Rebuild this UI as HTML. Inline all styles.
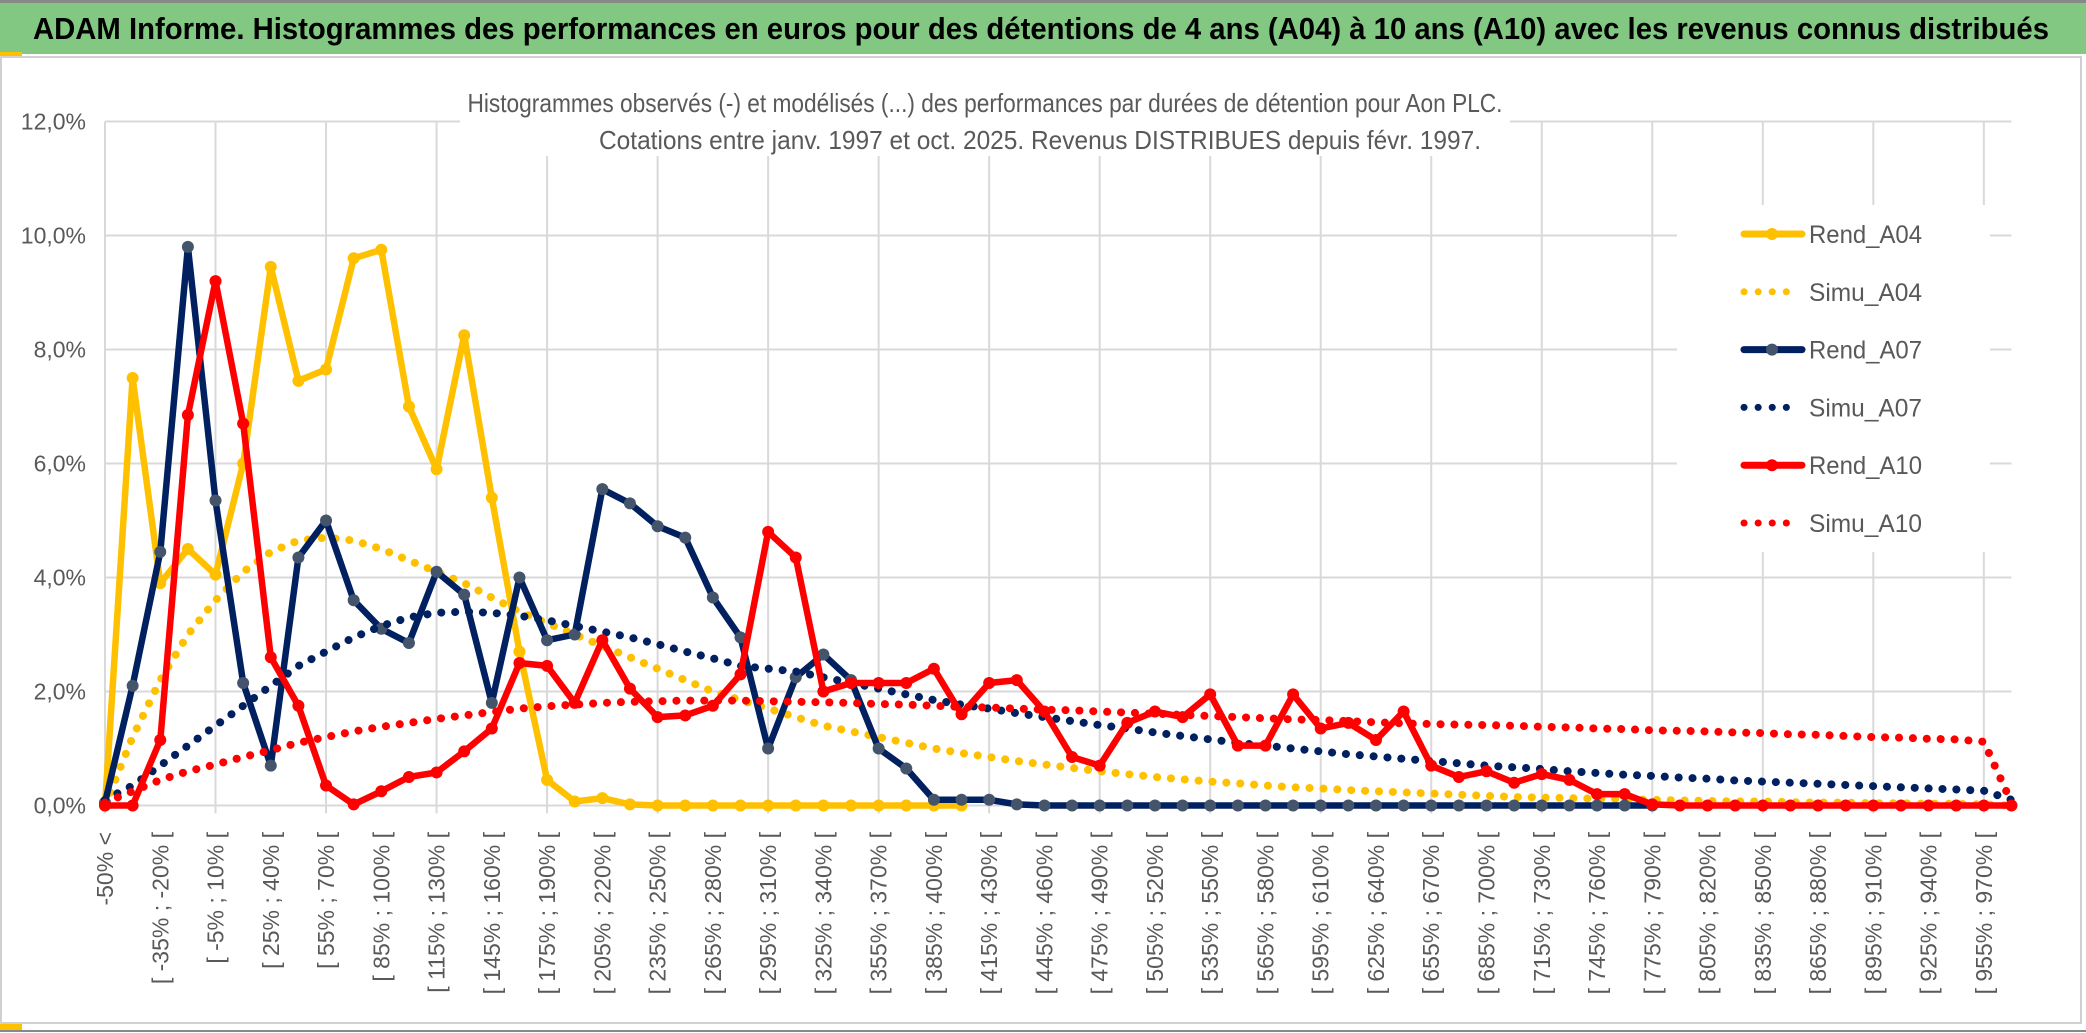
<!DOCTYPE html>
<html><head><meta charset="utf-8">
<style>
html,body{margin:0;padding:0;background:#fff;}
svg{display:block;}
text{font-family:"Liberation Sans Narrow","Liberation Sans",sans-serif;}
</style></head>
<body>
<svg id="chart" width="2086" height="1033" viewBox="0 0 2086 1033" xmlns="http://www.w3.org/2000/svg">
  <rect x="0" y="0" width="2086" height="1033" fill="#fff"/>
  <rect x="0" y="2" width="2086" height="52" fill="#82C882"/>
  <line x1="0" y1="1.5" x2="2086" y2="1.5" stroke="#888" stroke-width="3"/>
  <text x="33" y="39" font-size="31" font-weight="bold" fill="#000" textLength="2016" lengthAdjust="spacingAndGlyphs">ADAM Informe. Histogrammes des performances en euros pour des détentions de 4 ans (A04) à 10 ans (A10) avec les revenus connus distribués</text>
  <rect x="1" y="57" width="2080" height="966" fill="none" stroke="#d0d0d0" stroke-width="2"/>
  <rect x="0" y="52" width="22" height="4" fill="#FFC000"/>
  <rect x="0" y="1024" width="22" height="6" fill="#FFC000"/>
  <line x1="0" y1="1031" x2="2086" y2="1031" stroke="#888" stroke-width="2"/>
  <g id="grid"></g>
  <rect x="460" y="84" width="1050" height="72" fill="#fff"/>
  <text x="985" y="112" font-size="26" fill="#595959" text-anchor="middle" textLength="1035" lengthAdjust="spacingAndGlyphs">Histogrammes observés (-) et modélisés (...) des performances par durées de détention pour Aon PLC.</text>
  <text x="1040" y="149" font-size="26" fill="#595959" text-anchor="middle" textLength="882" lengthAdjust="spacingAndGlyphs">Cotations entre janv. 1997 et oct. 2025. Revenus DISTRIBUES depuis févr. 1997.</text>
  <g id="yaxis"></g>
  <g id="xaxis"></g>
  <g id="series"></g>
  <g id="legend"></g>
</svg>
<script>
const rendA04 = [0,7.5,3.9,4.5,4.05,6.0,9.45,7.45,7.65,9.6,9.75,7.0,5.9,8.25,5.4,2.7,0.45,0.07,0.13,0.02,0,0,0,0,0,0,0,0,0,0,0,0];
const simuA04 = [0,1.2,2.2,3.0,3.6,4.1,4.45,4.65,4.7,4.65,4.5,4.3,4.1,3.9,3.65,3.4,3.2,3.0,2.8,2.6,2.4,2.2,2.0,1.85,1.7,1.55,1.4,1.3,1.2,1.1,1.0,0.92,0.85,0.78,0.72,0.66,0.6,0.55,0.5,0.46,0.42,0.39,0.35,0.32,0.3,0.27,0.25,0.23,0.21,0.19,0.17,0.15,0.14,0.13,0.12,0.11,0.1,0.09,0.08,0.07,0.07,0.06,0.05,0.05,0.04,0.04,0.03,0.03,0.02,0];
const rendA07 = [0.05,2.1,4.45,9.8,5.35,2.15,0.7,4.35,5.0,3.6,3.1,2.85,4.1,3.7,1.8,4.0,2.9,3.0,5.55,5.3,4.9,4.7,3.65,2.95,1.0,2.25,2.65,2.2,1.0,0.65,0.1,0.1,0.1,0.02,0,0,0,0,0,0,0,0,0,0,0,0,0,0,0,0,0,0,0,0,0,0,0];
const simuA07 = [0.1,0.35,0.7,1.05,1.4,1.75,2.1,2.45,2.7,2.95,3.15,3.3,3.38,3.4,3.38,3.33,3.25,3.15,3.05,2.95,2.83,2.7,2.58,2.45,2.4,2.35,2.25,2.15,2.05,1.95,1.85,1.77,1.7,1.62,1.55,1.48,1.41,1.35,1.28,1.22,1.16,1.1,1.05,1.0,0.95,0.9,0.86,0.82,0.78,0.74,0.7,0.67,0.64,0.6,0.57,0.54,0.52,0.49,0.47,0.44,0.42,0.4,0.38,0.36,0.34,0.32,0.3,0.28,0.26,0.1];
const rendA10 = [0,0,1.15,6.85,9.2,6.7,2.6,1.75,0.35,0.02,0.25,0.5,0.58,0.95,1.35,2.5,2.45,1.8,2.9,2.05,1.55,1.58,1.75,2.3,4.8,4.35,2.0,2.15,2.15,2.15,2.4,1.6,2.15,2.2,1.65,0.85,0.7,1.45,1.65,1.55,1.95,1.05,1.05,1.95,1.35,1.45,1.15,1.65,0.7,0.5,0.6,0.4,0.55,0.45,0.2,0.2,0.02,0,0,0,0,0,0,0,0,0,0,0,0,0];
const simuA10 = [0.05,0.25,0.45,0.6,0.72,0.85,0.97,1.1,1.2,1.3,1.38,1.45,1.52,1.58,1.64,1.7,1.74,1.77,1.8,1.82,1.83,1.84,1.84,1.84,1.83,1.82,1.81,1.8,1.78,1.77,1.75,1.73,1.72,1.7,1.68,1.67,1.65,1.63,1.61,1.59,1.57,1.55,1.53,1.51,1.5,1.48,1.46,1.44,1.43,1.42,1.41,1.4,1.38,1.37,1.35,1.34,1.32,1.31,1.3,1.28,1.27,1.25,1.24,1.22,1.2,1.19,1.17,1.16,1.12,0.05];
const yTicks = [0,2,4,6,8,10,12];
const yTickLabels = ["0,0%","2,0%","4,0%","6,0%","8,0%","10,0%","12,0%"];
const categoryStarts = [];
for (let a = -50; a <= 955; a += 15) categoryStarts.push(a);

const NS = "http://www.w3.org/2000/svg";
const N = 70;
const X0 = 105, DX = 27.63, Y0 = 805.5, PY = 57;
function xs(i){ return X0 + i*DX; }
function ys(v){ return Y0 - v*PY; }
function mk(tag, attrs, parent){
  const e = document.createElementNS(NS, tag);
  for (const k in attrs) e.setAttribute(k, attrs[k]);
  parent.appendChild(e); return e;
}
function catLabel(i){
  if (i === 0) return "-50% <";
  if (i === N-1) return "970% <";
  const a = categoryStarts[i-1];
  return "[ " + a + "% ; " + (a+15) + "% [";
}

const grid = document.getElementById('grid');
yTicks.forEach(t => {
  const l = mk('line', {x1: X0, x2: xs(N-1), y1: ys(t), y2: ys(t), stroke: '#d9d9d9', 'stroke-width': 2}, grid);
  
  
});
for (let i = 0; i < N; i += 4) {
  const l = mk('line', {x1: xs(i), x2: xs(i), y1: ys(12), y2: ys(0)+8, stroke: '#d9d9d9', 'stroke-width': 2}, grid);
  
  
}

const yaxis = document.getElementById('yaxis');
yTicks.forEach((t, k) => {
  const tx = mk('text', {x: 86, y: ys(t)+8, 'font-size': 23, fill: '#595959', 'text-anchor': 'end'}, yaxis);
  tx.textContent = yTickLabels[k];
  
  
});

const xaxis = document.getElementById('xaxis');
for (let i = 0; i < N; i += 2) {
  const x = xs(i) + 8, y = 832;
  const tx = mk('text', {x: x, y: y, 'font-size': 23, fill: '#595959', 'text-anchor': 'end',
    transform: 'rotate(-90 ' + x + ' ' + y + ')', style: 'font-family:"Liberation Sans",sans-serif'}, xaxis);
  tx.textContent = catLabel(i);
  
  
}

const series = document.getElementById('series');
function pts(arr){ return arr.map((v,i) => xs(i).toFixed(1) + ',' + ys(v).toFixed(1)).join(' '); }
function solid(arr, color, mcolor, name){
  const g = mk('g', {}, series);
  
  
  mk('polyline', {points: pts(arr), fill: 'none', stroke: color, 'stroke-width': 6.5, 'stroke-linejoin': 'round', 'stroke-linecap': 'round'}, g);
  arr.forEach((v,i) => {
    const c = mk('circle', {cx: xs(i), cy: ys(v), r: 6, fill: mcolor}, g);
    
    
  });
}
function dotted(arr, color, name, w){
  const p = mk('polyline', {points: pts(arr), fill: 'none', stroke: color, 'stroke-width': w, 'stroke-dasharray': '0.1 13.8', 'stroke-linecap': 'round'}, series);
  
  
}
solid(rendA04, '#FFC000', '#FFC000', 'rend-a04-line');
dotted(simuA04, '#FFC000', 'simu-a04-line', 8);
solid(rendA07, '#002060', '#44546A', 'rend-a07-line');
dotted(simuA07, '#002060', 'simu-a07-line', 8);
solid(rendA10, '#FF0000', '#FF0000', 'rend-a10-line');
dotted(simuA10, '#FF0000', 'simu-a10-line', 8);

const legend = document.getElementById('legend');
const lb = mk('rect', {x: 1677, y: 205, width: 313, height: 347, fill: '#fff'}, legend);


const legItems = [
  ['Rend_A04', '#FFC000', '#FFC000', false],
  ['Simu_A04', '#FFC000', null, true],
  ['Rend_A07', '#002060', '#44546A', false],
  ['Simu_A07', '#002060', null, true],
  ['Rend_A10', '#FF0000', '#FF0000', false],
  ['Simu_A10', '#FF0000', null, true]
];
legItems.forEach((it, k) => {
  const y = 234 + k*57.8;
  const g = mk('g', {}, legend);
  
  
  if (it[3]) {
    mk('line', {x1: 1744, x2: it[0] === 'Simu_A10' ? 1800 : 1790, y1: y, y2: y, stroke: it[1], 'stroke-width': 7, 'stroke-dasharray': '0.1 14', 'stroke-linecap': 'round'}, g);
  } else {
    mk('line', {x1: 1744, x2: 1802, y1: y, y2: y, stroke: it[1], 'stroke-width': 7, 'stroke-linecap': 'round'}, g);
    mk('circle', {cx: 1772, cy: y, r: 6, fill: it[2]}, g);
  }
  const t = mk('text', {x: 1809, y: y + 9, 'font-size': 25, fill: '#595959', textLength: 113, lengthAdjust: 'spacingAndGlyphs'}, g);
  t.textContent = it[0];
});
</script>
</body></html>
